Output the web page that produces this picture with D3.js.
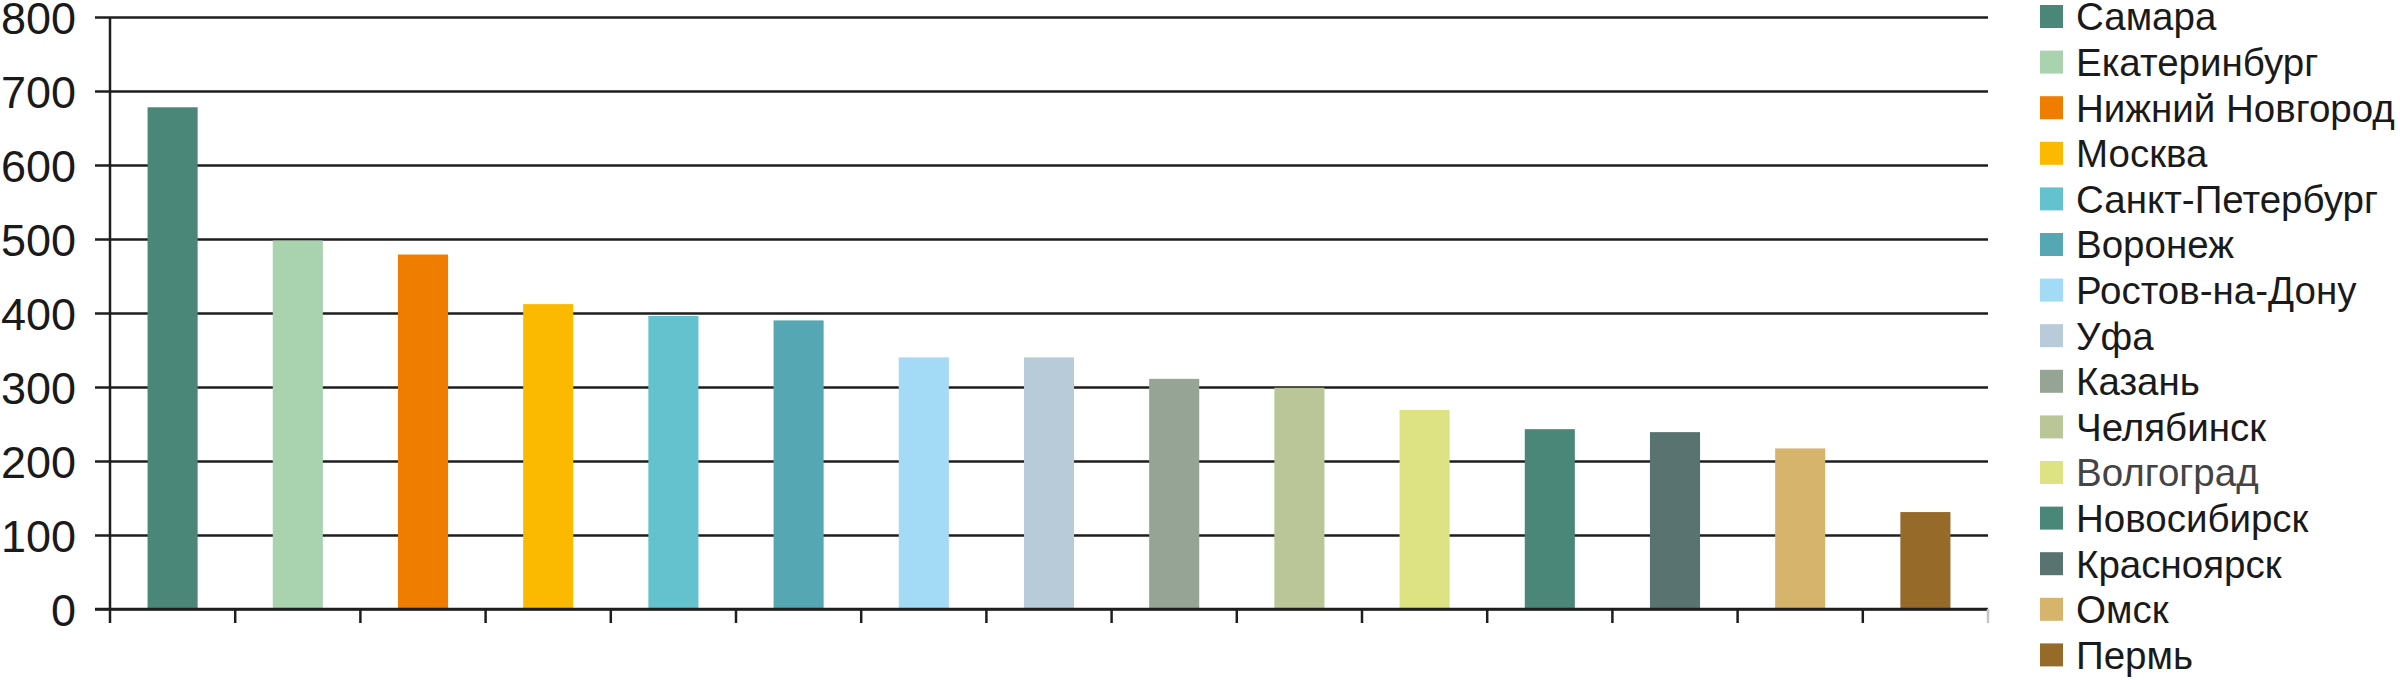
<!DOCTYPE html>
<html>
<head>
<meta charset="utf-8">
<script src="https://cdn.jsdelivr.net/npm/d3@7/dist/d3.min.js"></script>
<style>
  body { margin: 0; background: #fff; overflow: hidden; }
  svg text { font-family: "Liberation Sans", Arial, sans-serif; fill: #1a1a1a; }
</style>
</head>
<body>
<div id="chart"></div>
<script>
// cities, in drawing order
var cities = ["Самара", "Екатеринбург", "Нижний Новгород", "Москва", "Санкт-Петербург",
  "Воронеж", "Ростов-на-Дону", "Уфа", "Казань", "Челябинск", "Волгоград",
  "Новосибирск", "Красноярск", "Омск", "Пермь"];
var values = [678, 498, 479, 412, 396, 390, 340, 340, 311, 299, 269, 243, 239, 217, 131];
var colors = ["#4a8779", "#a8d3ae", "#ef7d00", "#fbb900", "#63c2ce",
  "#55a7b3", "#a3daf5", "#b7cbd8", "#96a496", "#bac698", "#dde383",
  "#4a8779", "#587370", "#d6b46b", "#966b29"];
var yTicks = [0, 100, 200, 300, 400, 500, 600, 700, 800];

var W = 2400, H = 680;
var margin = {left: 110, right: 1988, top: 17, bottom: 609};

var svg = d3.select("#chart").append("svg")
  .attr("width", W)
  .attr("height", H);

var x = d3.scaleBand()
  .domain(cities)
  .range([margin.left, margin.right])
  .paddingInner(0.6)
  .paddingOuter(0.3);

var y = d3.scaleLinear()
  .domain([0, 800])
  .range([margin.bottom, margin.top]);

// gridlines + y labels
var yAxis = d3.axisLeft(y)
  .tickValues(yTicks)
  .tickSizeInner(-(margin.right - margin.left))
  .tickSizeOuter(0)
  .tickPadding(34)
  .tickFormat(d3.format("d"));

var gy = svg.append("g")
  .attr("transform", "translate(" + margin.left + ",0)")
  .call(yAxis);
gy.select(".domain").remove();
gy.selectAll(".tick line")
  .attr("x1", -15)
  .attr("stroke", "#1e1e1e")
  .attr("stroke-width", 2.5);
gy.selectAll(".tick text")
  .attr("font-size", 45)
  .attr("dy", "0.36em")
  .style("font-family", "'Liberation Sans', Arial, sans-serif")
  .style("fill", "#1a1a1a");

// bars
svg.append("g")
  .selectAll("rect")
  .data(values)
  .enter()
  .append("rect")
  .attr("x", function(d, i) { return x(cities[i]); })
  .attr("y", function(d) { return y(d); })
  .attr("width", x.bandwidth())
  .attr("height", function(d) { return y(0) - y(d); })
  .attr("fill", function(d, i) { return colors[i]; });

// y axis line
svg.append("line")
  .attr("x1", margin.left).attr("x2", margin.left)
  .attr("y1", margin.top).attr("y2", margin.bottom + 14)
  .attr("stroke", "#1e1e1e")
  .attr("stroke-width", 2.5);

// x axis line and category separators
svg.append("line")
  .attr("x1", margin.left - 15).attr("x2", margin.right)
  .attr("y1", y(0)).attr("y2", y(0))
  .attr("stroke", "#1e1e1e")
  .attr("stroke-width", 2.5);

var seps = d3.range(1, cities.length + 1);
svg.append("g")
  .selectAll("line")
  .data(seps)
  .enter()
  .append("line")
  .attr("x1", function(i) { return margin.left + i * x.step(); })
  .attr("x2", function(i) { return margin.left + i * x.step(); })
  .attr("y1", y(0))
  .attr("y2", y(0) + 14)
  .attr("stroke", function(i) { return i === cities.length ? "#c4c4c4" : "#1e1e1e"; })
  .attr("stroke-width", 2.5);

// legend
var legend = svg.append("g")
  .attr("transform", "translate(2040,5)");

var item = legend.selectAll("g")
  .data(cities)
  .enter()
  .append("g")
  .attr("transform", function(d, i) { return "translate(0," + (i * 45.6) + ")"; });

item.append("rect")
  .attr("width", 23)
  .attr("height", 23)
  .attr("fill", function(d, i) { return colors[i]; });

item.append("text")
  .attr("x", 36)
  .attr("y", 11.5)
  .attr("dy", "0.36em")
  .attr("font-size", 38.5)
  .style("fill", function(d) { return d === "Волгоград" ? "#444" : "#1a1a1a"; })
  .text(function(d) { return d; });
</script>
</body>
</html>
